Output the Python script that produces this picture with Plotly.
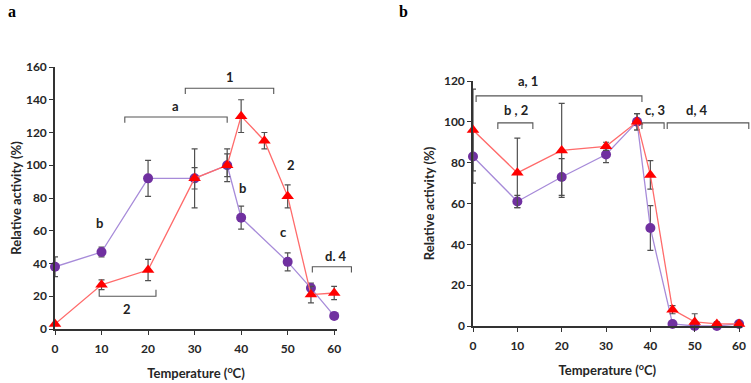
import plotly.graph_objects as go

# ---------------- data ----------------
# Panel a
temps_a_purple = [0, 10, 20, 30, 37, 40, 50, 55, 60]
purple_a = [38, 47, 92, 92, 100, 68, 41, 25, 8]
purple_a_err = [6, 3, 11, 18, 10, 7, 5.5, 3, 1]
temps_a_red = [0, 10, 20, 30, 37, 40, 45, 50, 55, 60]
red_a = [3, 27, 36, 92, 100, 130, 115, 81, 21, 22]
red_a_err = [1, 3, 6.5, 6.5, 7, 10, 5, 7, 5, 4]

# Panel b
temps_b = [0, 10, 20, 30, 37, 40, 45, 50, 55, 60]
purple_b = [83, 61, 73, 84, 100, 48, 1, 0, 0, 1]
purple_b_err = [13, 3, 9, 4, 4, 11, 1, 1, 1, 1]
red_b = [96, 75, 86, 88, 100, 74, 8, 2, 1, 1]
red_b_err = [20, 17, 23, 2, 4, 7, 2, 4, 1, 1]

x_ticks = [0, 10, 20, 30, 40, 50, 60]
y_ticks_a = [0, 20, 40, 60, 80, 100, 120, 140, 160]
y_ticks_b = [0, 20, 40, 60, 80, 100, 120]

# brackets: (x0, x1, y, tip, label, label_x, label_y)
brackets_a = [
    (15, 37, 129.5, -3.5, "a", 26, 136),
    (28, 47, 147, -3.5, "1", 37.5, 154),
    (9.5, 21.7, 20, 4, "2", 15.5, 12.5),
    (55.3, 63.7, 38, -3.5, "d. 4", 60.4, 44.5),
]
labels_a = [("2", 50.8, 100), ("b", 40.2, 86), ("b", 9.5, 65), ("c", 49.2, 59)]
brackets_b = [
    (0.7, 38.1, 112.7, -3, "a, 1", 12.4, 120),
    (5.6, 13.5, 99.5, -3, "b , 2", 9.7, 105.6),
    (38.1, 43.1, 99.5, -3, "c, 3", 41, 105.6),
    (43.8, 62.2, 99.5, -3, "d, 4", 50.5, 105.6),
]

# ---------------- layout geometry ----------------
W, H = 751, 383


def fx(px):
    return px / W


def fy(py):
    return 1 - py / H


xa_dom = [fx(55), fx(337)]
ya_dom = [fy(329), fy(67)]
xb_dom = [fx(473), fx(741.7)]
yb_dom = [fy(326), fy(81)]
x_range = [0, 60.6]
ya_range = [0, 160]
yb_range = [0, 120]

PURPLE_LINE = "#a78bd9"
PURPLE_MK = "#7030a0"
RED_LINE = "#ff6b6b"
RED_MK = "#ff0000"
ERR = "#505050"
FONT = "Lato"

fig = go.Figure()


def add_series(x, y, err, xaxis, yaxis, line_c, mk_c, symbol, size):
    fig.add_trace(go.Scatter(
        x=x, y=y, mode="lines+markers", xaxis=xaxis, yaxis=yaxis,
        line=dict(color=line_c, width=1.3),
        marker=dict(color=mk_c, symbol=symbol, size=size),
        error_y=dict(type="data", array=err, visible=True, color=ERR,
                     thickness=1.2, width=3),
        cliponaxis=False, showlegend=False,
    ))


add_series(temps_a_purple, purple_a, purple_a_err, "x", "y", PURPLE_LINE, PURPLE_MK, "circle", 10)
add_series(temps_a_red, red_a, red_a_err, "x", "y", RED_LINE, RED_MK, "triangle-up", 11)
add_series(temps_b, purple_b, purple_b_err, "x2", "y2", PURPLE_LINE, PURPLE_MK, "circle", 10)
add_series(temps_b, red_b, red_b_err, "x2", "y2", RED_LINE, RED_MK, "triangle-up", 11)


def to_paper(v, rng, dom):
    return dom[0] + (v - rng[0]) / (rng[1] - rng[0]) * (dom[1] - dom[0])


LABEL_FONT = dict(family=FONT, size=13, color="#222", weight="bold")


def add_brackets(brs, xdom, ydom, yrng):
    for x0, x1, y, tip, lab, lx, ly in brs:
        px0 = to_paper(x0, x_range, xdom)
        px1 = to_paper(x1, x_range, xdom)
        py = to_paper(y, yrng, ydom)
        pt = to_paper(y + tip, yrng, ydom)
        path = f"M {px0} {pt} L {px0} {py} L {px1} {py} L {px1} {pt}"
        fig.add_shape(type="path", path=path, xref="paper", yref="paper",
                      line=dict(color="#555555", width=1.1))
        fig.add_annotation(x=to_paper(lx, x_range, xdom), y=to_paper(ly, yrng, ydom),
                           xref="paper", yref="paper", text=lab, showarrow=False,
                           xanchor="center", yanchor="middle", font=LABEL_FONT)


add_brackets(brackets_a, xa_dom, ya_dom, ya_range)
add_brackets(brackets_b, xb_dom, yb_dom, yb_range)
for lab, lx, ly in labels_a:
    fig.add_annotation(x=lx, y=ly, xref="x", yref="y", text=lab, showarrow=False,
                       xanchor="center", yanchor="middle", font=LABEL_FONT)

# panel letters
fig.add_annotation(x=fx(12), y=fy(11), xref="paper", yref="paper", text="<b>a</b>",
                   xanchor="center", yanchor="middle", showarrow=False,
                   font=dict(family="Liberation Serif", size=16, color="#000"))
fig.add_annotation(x=fx(403), y=fy(11), xref="paper", yref="paper", text="<b>b</b>",
                   xanchor="center", yanchor="middle", showarrow=False,
                   font=dict(family="Liberation Serif", size=16, color="#000"))

tickfont = dict(family=FONT, size=12, color="#262626", weight="bold")
titlefont = dict(family=FONT, size=13, color="#262626", weight="bold")
axis_common = dict(showline=True, linecolor="#333", linewidth=1.5, ticks="outside",
                   ticklen=4, tickcolor="#333", tickwidth=1.2, showgrid=False,
                   zeroline=False, tickfont=tickfont, title_font=titlefont,
                   automargin=False)

fig.update_layout(
    width=W, height=H, margin=dict(l=0, r=0, t=0, b=0),
    paper_bgcolor="white", plot_bgcolor="white",
    xaxis=dict(domain=xa_dom, range=x_range, tickvals=x_ticks, anchor="y",
               ticklabelstandoff=4,
               title=dict(text="Temperature (<sup>o</sup>C)", standoff=14), **axis_common),
    yaxis=dict(domain=ya_dom, range=ya_range, tickvals=y_ticks_a, anchor="x",
               title=dict(text="Relative activity (%)", standoff=1), **axis_common),
    xaxis2=dict(domain=xb_dom, range=x_range, tickvals=x_ticks, anchor="y2",
                ticklabelstandoff=4,
                title=dict(text="Temperature (<sup>o</sup>C)", standoff=14), **axis_common),
    yaxis2=dict(domain=yb_dom, range=yb_range, tickvals=y_ticks_b, anchor="x2",
                title=dict(text="Relative activity (%)", standoff=6), **axis_common),
)

# remove the default 8px page margin so the figure fills the window exactly
fig.write_html(
    "out.html",
    config={"displayModeBar": False},
    post_script="document.body.style.margin='0';document.body.style.overflow='hidden';",
)
